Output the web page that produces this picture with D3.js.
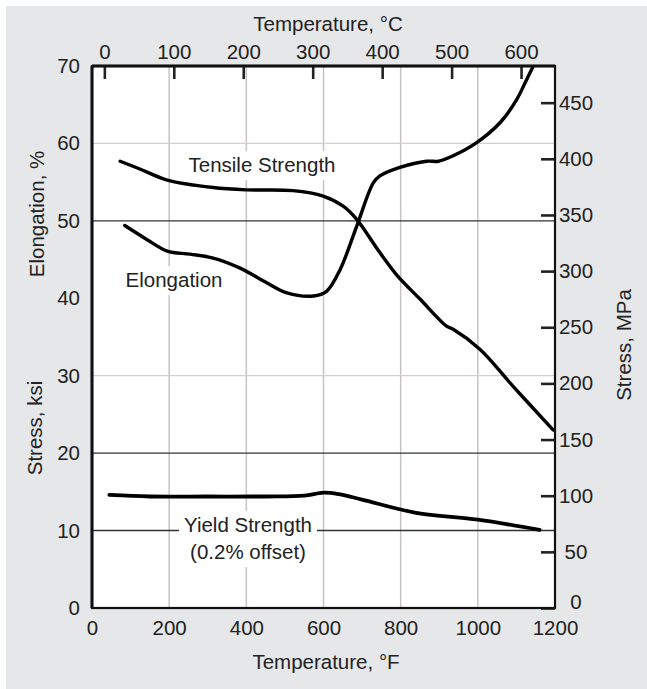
<!DOCTYPE html>
<html>
<head>
<meta charset="utf-8">
<script src="https://cdn.jsdelivr.net/npm/d3@7"></script>
<style>
  body { margin: 0; background: #fff; }
  svg text { font-family: "Liberation Sans", Arial, Helvetica, sans-serif; fill: #222; }
</style>
</head>
<body>
<div id="canvas"></div>
<script>
// temperatures in degF, values on the left (ksi / %) axis
var tensileF = [73, 124, 193, 314, 401, 521, 599, 651, 686, 746, 790, 850, 919, 936, 1006, 1092, 1195];
var tensileKsi = [57.7, 56.7, 55.3, 54.3, 54.0, 53.9, 53.2, 51.9, 50.2, 45.9, 43.0, 39.9, 36.4, 36.0, 33.4, 28.6, 23.0];

var elongF = [85, 142, 195, 254, 314, 384, 453, 505, 574, 608, 643, 686, 729, 746, 798, 867, 898, 936, 997, 1058, 1101, 1127, 1142];
var elongPct = [49.4, 47.6, 46.1, 45.7, 45.2, 43.9, 42.0, 40.7, 40.3, 40.9, 43.7, 49.3, 54.9, 55.8, 56.9, 57.7, 57.7, 58.4, 60.1, 62.7, 65.7, 68.3, 69.8];

var yieldF = [45, 150, 300, 450, 550, 600, 640, 700, 840, 1000, 1160];
var yieldKsi = [14.6, 14.4, 14.4, 14.4, 14.5, 14.9, 14.7, 14.0, 12.3, 11.4, 10.1];

var fTicks = [0, 200, 400, 600, 800, 1000, 1200];
var cTicks = [0, 100, 200, 300, 400, 500, 600];
var leftTicks = [0, 10, 20, 30, 40, 50, 60, 70];
var mpaTicks = [0, 50, 100, 150, 200, 250, 300, 350, 400, 450];
var gridF = [200, 400, 600, 800, 1000];
var lightGridY = [30, 60];
var darkGridY = [10, 20, 50];

function run() {
  var width = 647,
    height = 689;

  var svg = d3
    .select("#canvas")
    .append("svg")
    .attr("width", width)
    .attr("height", height);

  svg
    .append("rect")
    .attr("x", 6)
    .attr("y", 6)
    .attr("width", width - 6)
    .attr("height", height - 6)
    .style("fill", "#e6e7e9");

  var x = d3.scaleLinear().domain([0, 1200]).range([92, 555]);
  var y = d3.scaleLinear().domain([0, 70]).range([608, 66]);
  // same span expressed in degC and MPa
  var xC = d3
    .scaleLinear()
    .domain([(0 - 32) * 5 / 9, (1200 - 32) * 5 / 9])
    .range(x.range());
  var yM = d3.scaleLinear().domain([0, 70 * 6.895]).range(y.range());

  svg
    .append("rect")
    .attr("x", x(0))
    .attr("y", y(70))
    .attr("width", x(1200) - x(0))
    .attr("height", y(0) - y(70))
    .style("fill", "#fff");

  // grid
  svg
    .append("g")
    .selectAll("line")
    .data(gridF)
    .enter()
    .append("line")
    .attr("x1", function(d) { return x(d); })
    .attr("x2", function(d) { return x(d); })
    .attr("y1", y(70))
    .attr("y2", y(0))
    .style("stroke", "#c9c2c2")
    .style("stroke-width", 1.5);

  svg
    .append("g")
    .selectAll("line")
    .data(lightGridY)
    .enter()
    .append("line")
    .attr("x1", x(0))
    .attr("x2", x(1200))
    .attr("y1", function(d) { return y(d); })
    .attr("y2", function(d) { return y(d); })
    .style("stroke", "#d9cccc")
    .style("stroke-width", 1.3);

  svg
    .append("g")
    .selectAll("line")
    .data(darkGridY)
    .enter()
    .append("line")
    .attr("x1", x(0))
    .attr("x2", x(1200))
    .attr("y1", function(d) { return y(d); })
    .attr("y2", function(d) { return y(d); })
    .style("stroke", "#333")
    .style("stroke-width", 1.4);

  // curve labels with white boxes
  function label(lines, cx, cy) {
    var g = svg.append("g");
    var box = g.append("rect").style("fill", "#fff");
    g.selectAll("text")
      .data(lines)
      .enter()
      .append("text")
      .attr("x", cx)
      .attr("y", function(d, i) { return cy + i * 27; })
      .attr("dy", "0.35em")
      .attr("text-anchor", "middle")
      .style("font-size", "20.5px")
      .text(function(d) { return d; });
    var b = g.node().getBBox();
    box
      .attr("x", b.x - 5)
      .attr("y", b.y - 2)
      .attr("width", b.width + 10)
      .attr("height", b.height + 6);
  }

  label(["Tensile Strength"], 262, 165);
  label(["Elongation"], 174, 280);
  label(["Yield Strength", "(0.2% offset)"], 248, 525);

  // curves
  function curve(xs, ys, w) {
    var pts = xs.map(function(d, i) { return [d, ys[i]]; });
    var line = d3
      .line()
      .x(function(d) { return x(d[0]); })
      .y(function(d) { return y(d[1]); })
      .curve(d3.curveCatmullRom.alpha(0.5));
    svg
      .append("path")
      .datum(pts)
      .attr("d", line)
      .style("fill", "none")
      .style("stroke", "#000")
      .style("stroke-width", w)
      .style("stroke-linecap", "round")
      .style("stroke-linejoin", "round");
  }

  curve(tensileF, tensileKsi, 3.4);
  curve(elongF, elongPct, 3.4);
  curve(yieldF, yieldKsi, 3.8);

  // axes
  var bottom = svg
    .append("g")
    .attr("transform", "translate(0," + y(0) + ")")
    .call(
      d3
        .axisBottom(x)
        .tickValues(fTicks)
        .tickFormat(d3.format("d"))
        .tickSize(0)
        .tickPadding(12)
    );

  var top = svg
    .append("g")
    .attr("transform", "translate(0," + y(70) + ")")
    .call(d3.axisTop(xC).tickValues(cTicks).tickSize(-13).tickPadding(7));

  var left = svg
    .append("g")
    .attr("transform", "translate(" + x(0) + ",0)")
    .call(d3.axisLeft(y).tickValues(leftTicks).tickSize(0).tickPadding(12));

  var right = svg
    .append("g")
    .attr("transform", "translate(" + x(1200) + ",0)")
    .call(d3.axisRight(yM).tickValues(mpaTicks).tickSize(-14).tickPadding(21));

  [bottom, top, left, right].forEach(function(a) {
    a.select(".domain").remove();
    a.selectAll("text")
      .style("font-size", "20.5px")
      .style("font-family", null)
      .attr("fill", null);
    a.selectAll("line")
      .attr("stroke", "#222")
      .style("stroke-width", 2.6);
  });
  right.selectAll("text").attr("text-anchor", "middle");
  // the 0 MPa label sits a little above its tick, clear of the 1200
  right
    .selectAll(".tick")
    .filter(function(d) { return d === 0; })
    .select("text")
    .attr("y", -6);
  top.selectAll("line").attr("y2", 13);

  // frame
  svg
    .append("rect")
    .attr("x", x(0))
    .attr("y", y(70))
    .attr("width", x(1200) - x(0))
    .attr("height", y(0) - y(70))
    .style("fill", "none")
    .style("stroke", "#111")
    .style("stroke-width", 2.2);
  svg
    .append("line")
    .attr("x1", x(0))
    .attr("x2", x(0))
    .attr("y1", y(70))
    .attr("y2", y(0))
    .style("stroke", "#111")
    .style("stroke-width", 3);
  svg
    .append("line")
    .attr("x1", x(0))
    .attr("x2", x(1200))
    .attr("y1", y(70))
    .attr("y2", y(70))
    .style("stroke", "#111")
    .style("stroke-width", 3);

  // axis titles
  var titles = [
    { t: "Temperature, \u00b0C", x: 328, y: 24, r: 0 },
    { t: "Temperature, \u00b0F", x: 326, y: 662, r: 0 },
    { t: "Elongation, %", x: 37, y: 214, r: -90 },
    { t: "Stress, ksi", x: 35, y: 428, r: -90 },
    { t: "Stress, MPa", x: 624, y: 345, r: -90 }
  ];
  svg
    .append("g")
    .selectAll("text")
    .data(titles)
    .enter()
    .append("text")
    .attr("transform", function(d) {
      return "translate(" + d.x + "," + d.y + ") rotate(" + d.r + ")";
    })
    .attr("dy", "0.35em")
    .attr("text-anchor", "middle")
    .style("font-size", "20.5px")
    .text(function(d) { return d.t; });
}

(function() {
  run();
})();
</script>
</body>
</html>
